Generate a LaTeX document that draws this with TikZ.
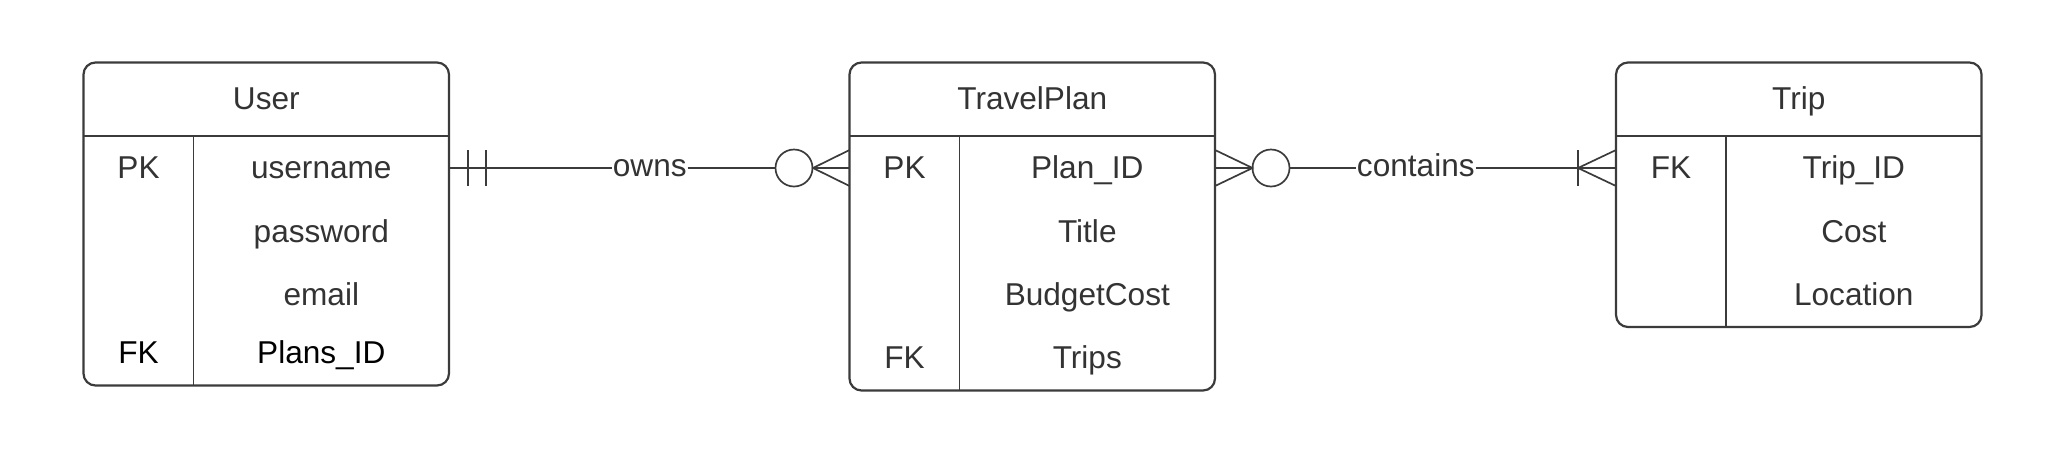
\documentclass[tikz,border=0pt]{standalone}
\usepackage{fontspec}
\setmainfont{Liberation Sans}
\usepackage{tikz}
\usetikzlibrary{shapes,calc}
\definecolor{ink}{HTML}{333333}
\definecolor{edgegray}{HTML}{3B3B3B}

\begin{document}
\begin{tikzpicture}
    \tikzstyle{table}=[
      rectangle,
      draw=edgegray,
      line width=1.1pt,
      rounded corners=6pt,
      anchor=north west,
      inner sep=0pt,
      outer sep=0pt,
      minimum width=182.75pt,
    ]
    \tikzstyle{rule}    = [draw=edgegray, line width=1.1pt]
    \tikzstyle{divider} = [draw=edgegray, line width=0.7pt]
    \tikzstyle{field}=[
      anchor=base,
      inner sep=0pt,
      text=ink,
      font=\fontsize{15.8pt}{19pt}\selectfont,
    ]
    \tikzstyle{keyfield}=[
      field,
      text=black,
    ]
    \tikzstyle{rel}  = [draw=edgegray, line width=0.85pt]
    \tikzstyle{ring}=[
      circle,
      draw=edgegray,
      line width=0.85pt,
      minimum size=18.5pt,
      inner sep=0pt,
    ]
    \tikzstyle{relname}=[
      field,
      inner xsep=0.3pt,
    ]

    \useasboundingbox (0,0) rectangle (1024pt,-225.5pt);

    \coordinate (userAnchor) at (41.75pt,-31.25pt);
    \coordinate (planAnchor) at (424.75pt,-31.25pt);
    \coordinate (tripAnchor) at (808pt,-31.25pt);

    % user table
    {
      \node[table, minimum height=161.5pt] (user) at (userAnchor) {};
      \draw[rule] ([yshift=-36.75pt] user.north west) -- ([yshift=-36.75pt] user.north east);
      \draw[divider] ([xshift=55pt, yshift=-36.75pt] user.north west) -- ([xshift=55pt] user.south west);

      \node[field] (userTitle) at ([xshift=91.4pt, yshift=-23.5pt] userAnchor) {User};

      \node[field] (userKey1) at ([xshift=27.5pt, yshift=-57.75pt] userAnchor) {PK};
      \node[keyfield] (userKey4) at ([xshift=27.5pt, yshift=-150.5pt] userAnchor) {FK};

      \node[field] (userField1) at ([xshift=118.9pt, yshift=-57.75pt] userAnchor) {username};
      \node[field] (userField2) at ([xshift=118.9pt, yshift=-89.75pt] userAnchor) {password};
      \node[field] (userField3) at ([xshift=118.9pt, yshift=-121.5pt] userAnchor) {email};
      \node[keyfield] (userField4) at ([xshift=118.9pt, yshift=-150.5pt] userAnchor) {Plans\_ID};
    }

    % travel plan table
    {
      \node[table, minimum height=164pt] (plan) at (planAnchor) {};
      \draw[rule] ([yshift=-36.75pt] plan.north west) -- ([yshift=-36.75pt] plan.north east);
      \draw[divider] ([xshift=55pt, yshift=-36.75pt] plan.north west) -- ([xshift=55pt] plan.south west);

      \node[field] (planTitle) at ([xshift=91.4pt, yshift=-23.5pt] planAnchor) {TravelPlan};

      \node[field] (planKey1) at ([xshift=27.5pt, yshift=-57.75pt] planAnchor) {PK};
      \node[field] (planKey4) at ([xshift=27.5pt, yshift=-152.75pt] planAnchor) {FK};

      \node[field] (planField1) at ([xshift=118.9pt, yshift=-57.75pt] planAnchor) {Plan\_ID};
      \node[field] (planField2) at ([xshift=118.9pt, yshift=-89.75pt] planAnchor) {Title};
      \node[field] (planField3) at ([xshift=118.9pt, yshift=-121.5pt] planAnchor) {BudgetCost};
      \node[field] (planField4) at ([xshift=118.9pt, yshift=-152.75pt] planAnchor) {Trips};
    }

    % trip table
    {
      \node[table, minimum height=132.25pt] (trip) at (tripAnchor) {};
      \draw[rule] ([yshift=-36.75pt] trip.north west) -- ([yshift=-36.75pt] trip.north east);
      \draw[divider] ([xshift=55pt, yshift=-36.75pt] trip.north west) -- ([xshift=55pt] trip.south west);

      \node[field] (tripTitle) at ([xshift=91.4pt, yshift=-23.5pt] tripAnchor) {Trip};

      \node[field] (tripKey1) at ([xshift=27.5pt, yshift=-57.75pt] tripAnchor) {FK};

      \node[field] (tripField1) at ([xshift=118.9pt, yshift=-57.75pt] tripAnchor) {Trip\_ID};
      \node[field] (tripField2) at ([xshift=118.9pt, yshift=-89.75pt] tripAnchor) {Cost};
      \node[field] (tripField3) at ([xshift=118.9pt, yshift=-121.5pt] tripAnchor) {Location};
    }

    % owns: one and only one -- zero or many
    {
      \coordinate (userRow1) at ([yshift=-52.75pt] user.north east);
      \coordinate (planRow1) at ([yshift=-52.75pt] plan.north west);
      \coordinate (ownsFoot) at ([xshift=-18.25pt] planRow1);

      \node[relname] (owns) at ([xshift=100.4pt, yshift=-4.2pt] userRow1) {owns};
      \node[ring] (ownsRing) at ([xshift=-27.75pt] planRow1) {};

      \draw[rel] (userRow1) -- (owns.west |- userRow1);
      \draw[rel] (owns.east |- userRow1) -- (ownsRing);
      \draw[rel] ([xshift=9.35pt, yshift=9pt] userRow1) -- ([xshift=9.35pt, yshift=-9pt] userRow1);
      \draw[rel] ([xshift=18.5pt, yshift=9pt] userRow1) -- ([xshift=18.5pt, yshift=-9pt] userRow1);
      \draw[rel] ([yshift=9pt] planRow1) -- (ownsFoot) -- ([yshift=-9pt] planRow1);
      \draw[rel] (ownsFoot) -- (planRow1);
    }

    % contains: zero or many -- one or many
    {
      \coordinate (planRow1r) at ([yshift=-52.75pt] plan.north east);
      \coordinate (tripRow1) at ([yshift=-52.75pt] trip.north west);
      \coordinate (planFoot) at ([xshift=18.75pt] planRow1r);
      \coordinate (tripFoot) at ([xshift=-19pt] tripRow1);

      \node[relname] (contains) at ([xshift=100.4pt, yshift=-4.2pt] planRow1r) {contains};
      \node[ring] (containsRing) at ([xshift=28pt] planRow1r) {};

      \draw[rel] ([yshift=9pt] planRow1r) -- (planFoot) -- ([yshift=-9pt] planRow1r);
      \draw[rel] (planRow1r) -- (planFoot);
      \draw[rel] (containsRing) -- (contains.west |- planRow1r);
      \draw[rel] (contains.east |- planRow1r) -- (tripRow1);
      \draw[rel] ([yshift=9pt] tripFoot) -- ([yshift=-9pt] tripFoot);
      \draw[rel] ([yshift=9pt] tripRow1) -- (tripFoot) -- ([yshift=-9pt] tripRow1);
    }
\end{tikzpicture}
\end{document}
